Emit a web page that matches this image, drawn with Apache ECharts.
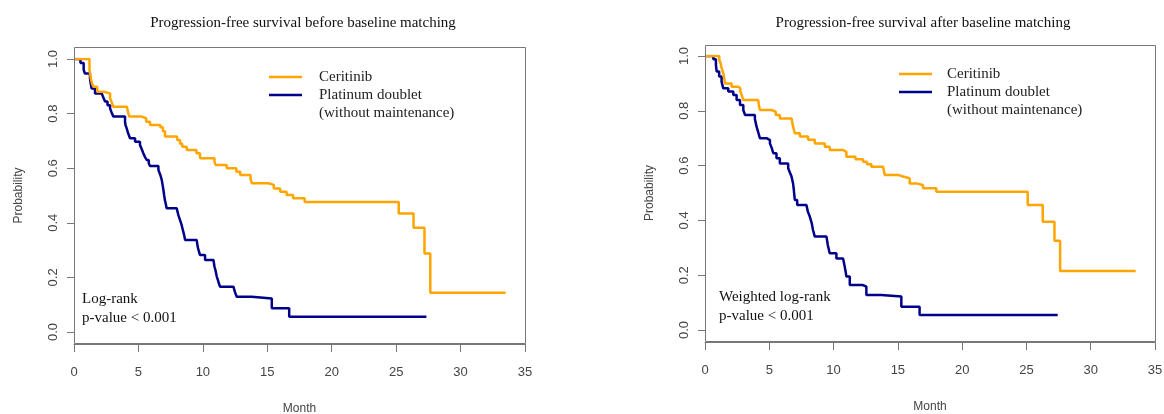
<!DOCTYPE html>
<html>
<head>
<meta charset="utf-8">
<script src="https://cdn.jsdelivr.net/npm/echarts@6.0.0/dist/echarts.min.js"></script>
<style>
html,body{margin:0;padding:0;background:#fff;}
#chart{width:1164px;height:414px;}
</style>
</head>
<body>
<div id="chart"></div>
<script>
// ---- Data ----
const titles = ['Progression-free survival before baseline matching', 'Progression-free survival after baseline matching'];
const seriesNames = ['Ceritinib', 'Platinum doublet'];
const legendSubLine = '(without maintenance)';
const annotations = ['Log-rank\np-value < 0.001', 'Weighted log-rank\np-value < 0.001'];
const xTicks = [0, 5, 10, 15, 20, 25, 30, 35];
const yTicks = [0, 0.2, 0.4, 0.6, 0.8, 1.0];

// Before matching: Ceritinib
const beforeCerTime = [0, 1.2, 1.3, 1.4, 1.5, 1.8, 2.3, 2.8, 2.95, 3.05, 4.1, 4.22, 4.3, 5.25, 5.6, 5.9, 6.7, 6.9, 7.06, 8.0, 8.23, 8.4, 8.75, 9.5, 9.78, 10.9, 11.0, 11.85, 12.6, 12.9, 13.7, 13.8, 15.1, 15.5, 16.0, 16.5, 17.0, 17.9, 25.2, 26.35, 27.2, 27.65, 33.5];
const beforeCerSurv = [1.0, 0.96, 0.93, 0.91, 0.898, 0.88, 0.874, 0.856, 0.838, 0.825, 0.819, 0.80, 0.789, 0.783, 0.77, 0.758, 0.75, 0.735, 0.716, 0.703, 0.69, 0.679, 0.667, 0.655, 0.636, 0.624, 0.612, 0.60, 0.587, 0.575, 0.56, 0.545, 0.539, 0.526, 0.514, 0.502, 0.49, 0.476, 0.434, 0.382, 0.288, 0.144, 0.144];
// Before matching: Platinum doublet
const beforePlaTime = [0, 0.5, 0.75, 0.85, 1.24, 1.3, 1.37, 1.63, 2.15, 2.3, 2.41, 2.6, 2.8, 2.95, 3.05, 3.96, 4.0, 4.09, 4.2, 4.35, 4.74, 5.12, 5.25, 5.38, 5.5, 5.64, 5.8, 5.9, 6.55, 6.7, 6.81, 6.88, 6.94, 7.0, 7.05, 7.12, 7.19, 7.97, 8.1, 8.23, 8.35, 8.45, 8.55, 8.62, 9.52, 9.6, 9.7, 9.78, 10.17, 10.82, 10.9, 11.0, 11.08, 11.2, 11.33, 12.37, 12.5, 12.63, 13.79, 15.35, 16.7, 27.35];
const beforePlaSurv = [1.0, 0.985, 0.96, 0.947, 0.929, 0.91, 0.892, 0.874, 0.868, 0.856, 0.844, 0.831, 0.819, 0.80, 0.789, 0.77, 0.758, 0.746, 0.728, 0.71, 0.697, 0.685, 0.67, 0.655, 0.642, 0.63, 0.618, 0.608, 0.594, 0.575, 0.557, 0.538, 0.52, 0.50, 0.484, 0.47, 0.453, 0.447, 0.428, 0.41, 0.392, 0.373, 0.355, 0.337, 0.331, 0.312, 0.294, 0.282, 0.264, 0.258, 0.24, 0.222, 0.203, 0.185, 0.166, 0.16, 0.145, 0.129, 0.123, 0.087, 0.056, 0.056];
// After matching: Ceritinib
const afterCerTime = [0, 1.11, 1.22, 1.3, 1.42, 1.5, 1.55, 2.07, 2.59, 2.75, 2.85, 2.98, 4.14, 4.2, 4.27, 5.18, 5.5, 5.82, 6.73, 6.85, 6.99, 7.38, 8.02, 8.54, 9.32, 9.7, 10.74, 11.0, 11.7, 12.29, 12.6, 12.94, 13.85, 13.98, 15.01, 15.4, 15.92, 16.43, 16.95, 17.99, 25.1, 26.27, 27.18, 27.62, 33.5];
const afterCerSurv = [1.0, 0.985, 0.973, 0.955, 0.937, 0.918, 0.9, 0.888, 0.882, 0.87, 0.858, 0.839, 0.833, 0.818, 0.803, 0.797, 0.785, 0.772, 0.766, 0.742, 0.718, 0.706, 0.694, 0.681, 0.669, 0.657, 0.65, 0.632, 0.623, 0.614, 0.605, 0.596, 0.59, 0.566, 0.56, 0.554, 0.535, 0.529, 0.517, 0.505, 0.456, 0.395, 0.326, 0.215, 0.215];
// After matching: Platinum doublet
const afterPlaTime = [0, 0.65, 0.85, 0.91, 1.1, 1.29, 1.42, 1.81, 2.2, 2.46, 2.72, 2.98, 3.11, 3.88, 3.95, 4.01, 4.15, 4.27, 4.79, 5.05, 5.2, 5.31, 5.56, 5.82, 6.47, 6.6, 6.73, 6.85, 6.91, 6.95, 6.99, 7.17, 7.89, 8.0, 8.15, 8.3, 8.4, 8.54, 9.45, 9.55, 9.7, 10.22, 10.74, 10.85, 10.93, 11.0, 11.26, 12.29, 12.55, 13.72, 15.27, 16.69, 27.43];
const afterPlaSurv = [1.0, 0.988, 0.967, 0.943, 0.925, 0.906, 0.882, 0.87, 0.858, 0.839, 0.821, 0.803, 0.785, 0.77, 0.755, 0.742, 0.72, 0.70, 0.693, 0.681, 0.663, 0.645, 0.627, 0.608, 0.59, 0.575, 0.56, 0.535, 0.511, 0.49, 0.474, 0.456, 0.45, 0.432, 0.414, 0.39, 0.365, 0.341, 0.334, 0.31, 0.28, 0.261, 0.255, 0.235, 0.215, 0.195, 0.164, 0.158, 0.128, 0.122, 0.085, 0.055, 0.055];

// ---- Styles ----
const colors = ['#FFA500', '#00008B'];
const axisColor = '#777777';
const labelColor = '#444444';
const serif = 'Liberation Serif';
const sans = 'Liberation Sans';

function pairs(t, s) { return t.map((v, i) => [v, s[i]]); }

const panels = [
  {grid: {left: 74, top: 59, width: 451, height: 273}, box: {x: 74.5, y: 47.5, w: 451, h: 296}, titleX: 298,
   legendX: 269, legendY: 77, textX: 319, annX: 82, annY: 290,
   data: [pairs(beforeCerTime, beforeCerSurv), pairs(beforePlaTime, beforePlaSurv)]},
  {grid: {left: 705, top: 56, width: 450, height: 274}, box: {x: 705.5, y: 45.5, w: 450, h: 296}, titleX: 918,
   legendX: 899, legendY: 74, textX: 947, annX: 719, annY: 288,
   data: [pairs(afterCerTime, afterCerSurv), pairs(afterPlaTime, afterPlaSurv)]}
];

const chart = echarts.init(document.getElementById('chart'), null, {renderer: 'canvas'});

const option = {
  animation: false,
  backgroundColor: '#ffffff',
  title: panels.map((p, i) => ({
    text: titles[i], left: p.titleX, top: 11, textAlign: 'center',
    textStyle: {fontFamily: serif, fontSize: 15, fontWeight: 'normal', color: '#111111'}
  })),
  grid: panels.map(p => Object.assign({containLabel: false, outerBoundsMode: 'none'}, p.grid)),
  xAxis: panels.map((p, i) => ({
    type: 'value', gridIndex: i, min: xTicks[0], max: xTicks[xTicks.length - 1], interval: 5,
    offset: 12,
    name: 'Month', nameLocation: 'middle', nameGap: 59,
    nameTextStyle: {fontFamily: sans, fontSize: 12, color: labelColor},
    axisLine: {show: true, onZero: false, lineStyle: {color: axisColor, width: 1}},
    axisTick: {show: true, length: 8, lineStyle: {color: axisColor}},
    axisLabel: {fontFamily: sans, fontSize: 13, color: labelColor, margin: 22},
    splitLine: {show: false}
  })),
  yAxis: panels.map((p, i) => ({
    type: 'value', gridIndex: i, min: yTicks[0], max: yTicks[yTicks.length - 1], interval: 0.2,
    name: 'Probability', nameLocation: 'middle', nameGap: 49,
    nameTextStyle: {fontFamily: sans, fontSize: 12, color: labelColor},
    axisLine: {show: true, onZero: false, lineStyle: {color: axisColor, width: 1}},
    axisTick: {show: true, length: 7, lineStyle: {color: axisColor}},
    axisLabel: {fontFamily: sans, fontSize: 13, color: labelColor, rotate: 90, margin: 14,
      formatter: v => v.toFixed(1)},
    splitLine: {show: false}
  })),
  series: [],
  graphic: []
};

panels.forEach((p, i) => {
  // Platinum doublet first, Ceritinib on top
  [1, 0].forEach(k => {
    option.series.push({
      name: seriesNames[k], type: 'line', step: 'end', xAxisIndex: i, yAxisIndex: i,
      data: p.data[k], symbol: 'none', silent: true,
      lineStyle: {color: colors[k], width: 2.5}, itemStyle: {color: colors[k]}
    });
  });
  option.graphic.push({
    type: 'rect', shape: {x: p.box.x, y: p.box.y, width: p.box.w, height: p.box.h},
    style: {fill: 'none', stroke: axisColor, lineWidth: 1}, silent: true, z: 5
  });
  [0, 1].forEach(k => {
    const y = p.legendY + k * 18;
    option.graphic.push({
      type: 'line', shape: {x1: p.legendX, y1: y, x2: p.legendX + 33, y2: y},
      style: {stroke: colors[k], lineWidth: 2.5}, silent: true
    });
    option.graphic.push({
      type: 'text', x: p.textX, y: y, silent: true,
      style: {text: seriesNames[k], fontFamily: serif, fontSize: 15, fill: '#222222', verticalAlign: 'middle'}
    });
  });
  option.graphic.push({
    type: 'text', x: p.textX, y: p.legendY + 36, silent: true,
    style: {text: legendSubLine, fontFamily: serif, fontSize: 15, fill: '#222222', verticalAlign: 'middle'}
  });
  option.graphic.push({
    type: 'text', x: p.annX, y: p.annY, silent: true,
    style: {text: annotations[i], fontFamily: serif, fontSize: 15, lineHeight: 19, fill: '#111111'}
  });
});

chart.setOption(option);
</script>
</body>
</html>
